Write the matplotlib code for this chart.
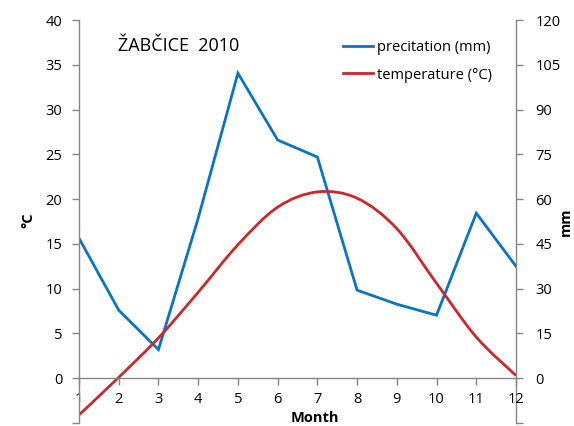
import numpy as np
import matplotlib
matplotlib.use('Agg')
import matplotlib.pyplot as plt
from matplotlib.path import Path
from matplotlib.patches import PathPatch
from matplotlib.lines import Line2D

# data
months = [1, 2, 3, 4, 5, 6, 7, 8, 9, 10, 11, 12]
precip_mm = [46.9, 22.8, 9.6, 53.6, 102.2, 79.8, 74.1, 29.5, 24.8, 21.1, 55.3, 37.5]
temp_c = [-4.1, 0.1, 4.5, 9.6, 14.9, 19.1, 20.8, 20.1, 16.7, 10.6, 4.6, 0.3]
left_ticks = [-5, 0, 5, 10, 15, 20, 25, 30, 35, 40]
right_ticks = [-15, 0, 15, 30, 45, 60, 75, 90, 105, 120]

BLUE = '#0B73C2'
RED = '#C9282D'
GRAY = '#868686'

plt.rcParams['font.family'] = ['Open Sans', 'DejaVu Sans']


def smooth_path(x, y):
    '''Excel-like smoothed line as a cubic Bezier path (Catmull-Rom).'''
    x = np.asarray(x, float)
    y = np.asarray(y, float)
    px = np.concatenate([[x[0]], x, [x[-1]]])
    py = np.concatenate([[y[0]], y, [y[-1]]])
    verts = [(x[0], y[0])]
    codes = [Path.MOVETO]
    for i in range(1, len(px) - 2):
        c1 = (px[i] + (px[i + 1] - px[i - 1]) / 6, py[i] + (py[i + 1] - py[i - 1]) / 6)
        c2 = (px[i + 1] - (px[i + 2] - px[i]) / 6, py[i + 1] - (py[i + 2] - py[i]) / 6)
        verts += [c1, c2, (px[i + 1], py[i + 1])]
        codes += [Path.CURVE4] * 3
    return Path(verts, codes)


fig = plt.figure(figsize=(5.74, 4.26), dpi=100)
ax = fig.add_axes([79 / 574, 1 - 423 / 426, 437 / 574, 403 / 426])
ax2 = ax.twinx()

# precipitation on the right axis
ax2.plot(months, precip_mm, color=BLUE, lw=2.0, solid_joinstyle='miter')
ax2.set_ylim(-15, 120)
ax2.set_yticks(right_ticks)
ax2.set_yticklabels(['' if t < 0 else str(t) for t in right_ticks])

# temperature on the left axis (drawn above the precipitation)
ax.set_zorder(ax2.get_zorder() + 1)
ax.patch.set_visible(False)
ax.add_patch(PathPatch(smooth_path(months, temp_c), facecolor='none',
                       edgecolor=RED, lw=2.0))
ax.set_xlim(1, 12)
ax.set_ylim(-5, 40)
ax.set_yticks(left_ticks)
ax.set_yticklabels(['' if t < 0 else str(t) for t in left_ticks])
ax.set_xticks(months)

for a in (ax, ax2):
    a.spines['top'].set_visible(False)
    for s in a.spines.values():
        s.set_color(GRAY)
        s.set_linewidth(1.0)
    a.tick_params(colors=GRAY, labelcolor='black', labelsize=10.5,
                  length=5, width=1.0)
ax2.spines['bottom'].set_visible(False)
ax2.spines['left'].set_visible(False)
ax.spines['right'].set_visible(False)
ax.spines['bottom'].set_position(('data', 0))
ax.tick_params(axis='x', pad=5)
ax.tick_params(axis='y', pad=7)
ax2.tick_params(axis='y', pad=9)

# axis titles placed as in the reference
fig.text(28 / 574, 1 - 220 / 426, '°C', fontsize=10.5, fontweight='bold',
         rotation=90, ha='center', va='center')
fig.text(566 / 574, 1 - 222 / 426, 'mm', fontsize=10.5, fontweight='bold',
         rotation=90, ha='center', va='center')
fig.text(315 / 574, 1 - 418 / 426, 'Month', fontsize=10.5, fontweight='bold',
         ha='center', va='center')

fig.text(118 / 574, 1 - 46 / 426, 'ŽABČICE  2010', fontsize=13,
         ha='left', va='center')

handles = [Line2D([], [], color=BLUE, lw=2.0), Line2D([], [], color=RED, lw=2.0)]
ax.legend(handles, ['precitation (mm)', 'temperature (°C)'], frameon=False,
          fontsize=10.5, loc='upper left', bbox_to_anchor=(0.604, 0.95),
          handlelength=2.05, handletextpad=0.27, labelspacing=0.85,
          borderpad=0.0, borderaxespad=0.0)

fig.savefig('out.png', dpi=100)
